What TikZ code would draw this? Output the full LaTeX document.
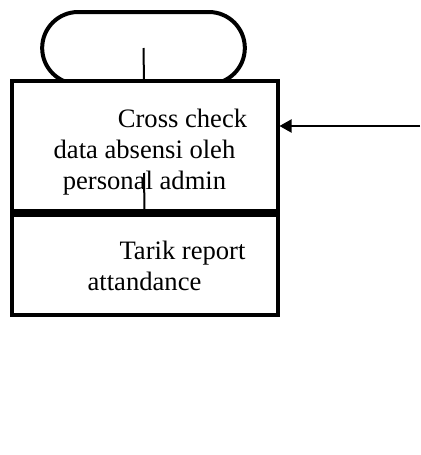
\documentclass[tikz,border=0pt]{standalone}
\usepackage{fontspec}
\setmainfont{Liberation Serif}
\usepackage{tikz}
\usetikzlibrary{arrows.meta, positioning, shapes.misc}

\begin{document}
\begin{tikzpicture}[
        x=0.5pt, y=-0.5pt,
        font=\fontsize{13.3}{15.5}\selectfont,
        terminal/.style={draw, line width=2pt, rounded rectangle, minimum width=108pt, minimum height=36pt},
        box/.style={draw, line width=2pt, fill=white, align=center, minimum width=133pt, inner sep=0pt},
        link/.style={line width=1pt},
        arrow/.style={-{Triangle[length=6pt, width=6.5pt]}, line width=1pt}
    ]
    \useasboundingbox (0,0) rectangle (420,455);
    \node[terminal] (start) at (143.5,48) {};
    \draw[link] (start.center) -- (144,82);
    \node[box, minimum height=65pt] (cross) at (144.5,145.5) {\rule{0pt}{16pt}\hspace*{38pt}Cross check\\data absensi oleh\\personal admin};
    \node[box, minimum height=50pt, below=0pt of cross] (tarik) {\rule{0pt}{11pt}\hspace*{38pt}Tarik report\\attandance};
    \coordinate (split) at (144,173);
    \coordinate (feed) at (420,126);
    \draw[link] (split) -- (tarik.north);
    \draw[arrow] (feed) -- (feed -| cross.east);
\end{tikzpicture}
\end{document}
